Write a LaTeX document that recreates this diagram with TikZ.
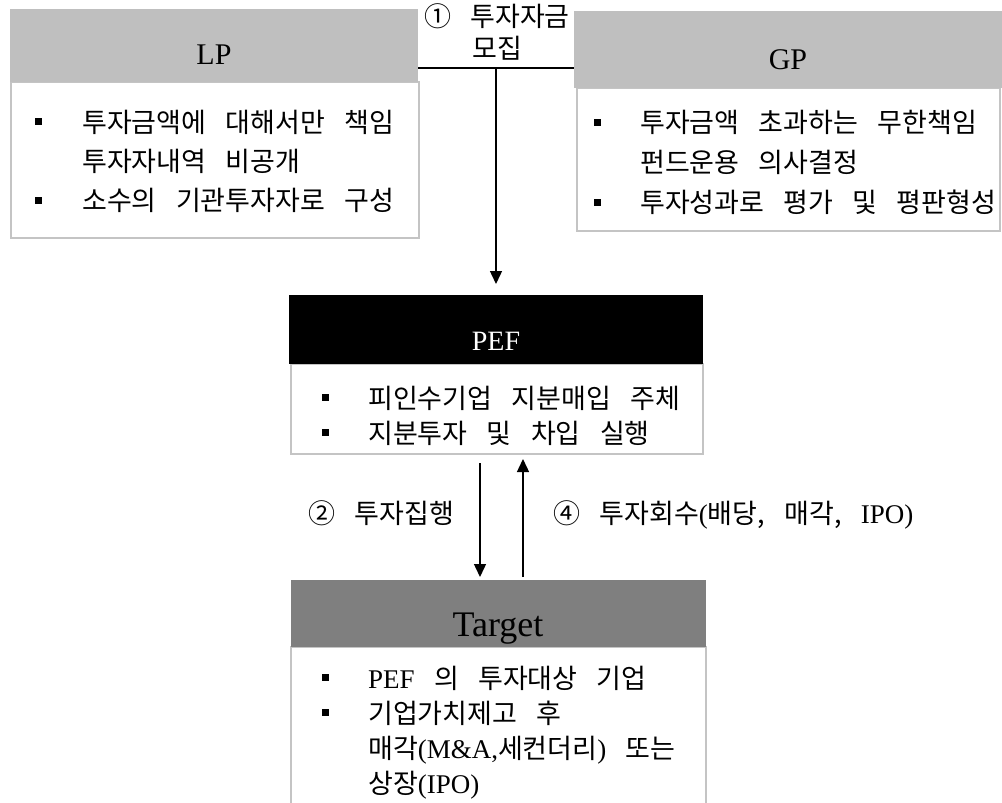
\documentclass[tikz,border=0pt]{standalone}
\usepackage{fontspec}
\setmainfont{Liberation Serif}
\newfontfamily\kr[WordSpace=3.2]{Noto Sans CJK KR}
\usetikzlibrary{arrows.meta,calc}
\definecolor{hdrgray}{HTML}{BFBFBF}
\definecolor{tgtgray}{HTML}{7F7F7F}
\definecolor{bordergray}{HTML}{C4C4C4}
\newcommand\lat[1]{{\rmfamily\fontsize{27}{40}\selectfont #1}}
\begin{document}
\begin{tikzpicture}[x=1pt,y=-1pt,
  boxhdr/.style={draw=none,inner sep=0pt,outer sep=0pt,anchor=north west},
  boxbody/.style={draw=bordergray,line width=1.5pt,fill=white,inner sep=0pt,outer sep=0pt,anchor=north west},
  line/.style={inner sep=0pt,anchor=base west,font=\kr\fontsize{27}{40}\selectfont},
  lbl/.style={inner sep=0pt,anchor=base,font=\kr\fontsize{27}{40}\selectfont},
  htxt/.style={inner sep=0pt,anchor=base},
  bulsq/.style={fill=black,draw=none,minimum size=7pt,inner sep=0pt},
  conn/.style={line width=1.4pt},
  arr/.style={line width=1.4pt,-{Triangle[length=13pt,width=12pt]}}]
\useasboundingbox (0,0) rectangle (1002,803);
\clip (0,0) rectangle (1002,803);

% LP
\node[boxbody,minimum width=408pt,minimum height=156pt] (lpb) at (11,82) {};
\node[boxhdr,fill=hdrgray,minimum width=408pt,minimum height=73pt] (lph) at (10,9) {};
\node[htxt,font=\fontsize{30}{36}\selectfont] (lpt) at (214,64) {LP};
\node[bulsq] (lpb1) at (38,121) {};
\node[line] (lp1) at (82,132) {투자금액에 대해서만 책임};
\node[line] (lp2) at (82,171) {투자자내역 비공개};
\node[bulsq] (lpb3) at (38,200) {};
\node[line] (lp3) at (82,210) {소수의 기관투자자로 구성};

% GP
\node[boxbody,minimum width=423pt,minimum height=143pt] (gpb) at (577,88) {};
\node[boxhdr,fill=hdrgray,minimum width=430pt,minimum height=77pt] (gph) at (574,11) {};
\node[htxt,font=\fontsize{30}{36}\selectfont] (gpt) at (788,69) {GP};
\node[bulsq] (gpb1) at (597,122) {};
\node[line] (gp1) at (640,132) {투자금액 초과하는 무한책임};
\node[line] (gp2) at (640,172) {펀드운용 의사결정};
\node[bulsq] (gpb3) at (597,202) {};
\node[line] (gp3) at (640,212) {투자성과로 평가 및 평판형성};

% PEF
\node[boxbody,minimum width=412pt,minimum height=90pt] (pefb) at (291,364) {};
\node[boxhdr,fill=black,minimum width=414pt,minimum height=69pt] (pefh) at (289,295) {};
\node[htxt,font=\fontsize{28}{34}\selectfont,text=white] (peft) at (496,350) {PEF};
\node[bulsq] (pefb1) at (325,397) {};
\node[line] (pef1) at (368,408) {피인수기업 지분매입 주체};
\node[bulsq] (pefb2) at (325,432) {};
\node[line] (pef2) at (368,443) {지분투자 및 차입 실행};

% Target
\node[boxbody,minimum width=415pt,minimum height=170pt] (tgb) at (291,647) {};
\node[boxhdr,fill=tgtgray,minimum width=415pt,minimum height=67pt] (tgh) at (291,580) {};
\node[htxt,font=\fontsize{36}{42}\selectfont] (tgt) at (498,636) {Target};
\node[bulsq] (tgb1) at (325,677) {};
\node[line] (tg1) at (368,688) {\lat{PEF} 의 투자대상 기업};
\node[bulsq] (tgb2) at (325,712) {};
\node[line] (tg2) at (368,723) {기업가치제고 후};
\node[line] (tg3) at (368,758) {매각\lat{(M\&A,}세컨더리\lat{)} 또는};
\node[line] (tg4) at (368,793) {상장\lat{(IPO)}};

% connector 1
\coordinate (jn) at (496,68);
\draw[conn] (lph.east |- jn) -- (gph.west |- jn);
\draw[arr] (jn) -- ($(pefh.north)+(0,-11)$);
\node[lbl] (l1a) at (497,26) {① 투자자금};
\node[lbl] (l1b) at (497,58) {모집};

% connectors 2 and 4
\coordinate (dnx) at (480,0);
\coordinate (upx) at (523,0);
\draw[arr] ($(pefb.south -| dnx)+(0,9)$) -- ($(tgh.north -| dnx)+(0,-3)$);
\draw[arr] ($(tgh.north -| upx)+(0,-3)$) -- ($(pefb.south -| upx)+(0,5)$);
\node[line] (l2) at (308,523) {② 투자집행};
\node[line] (l4) at (553,523) {④ 투자회수\lat{(}배당, 매각, \lat{IPO)}};
\end{tikzpicture}
\end{document}
